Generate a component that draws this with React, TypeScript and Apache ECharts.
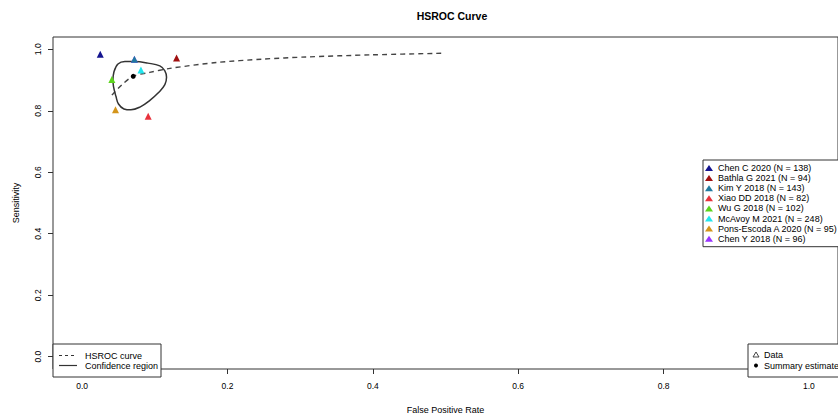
import React, { useEffect, useRef } from "react";
import * as echarts from "echarts";

const studyNames = [
  "Chen C 2020 (N = 138)",
  "Bathla G 2021 (N = 94)",
  "Kim Y 2018 (N = 143)",
  "Xiao DD 2018 (N = 82)",
  "Wu G 2018 (N = 102)",
  "McAvoy M 2021 (N = 248)",
  "Pons-Escoda A 2020 (N = 95)",
  "Chen Y 2018 (N = 96)",
];
const studyFpr = [0.025, 0.13, 0.072, 0.091, 0.041, 0.081, 0.046, 0.072];
const studySens = [0.984, 0.972, 0.968, 0.782, 0.902, 0.933, 0.803, 0.968];
const studyColors = ["#14148f", "#a01010", "#1f7aa0", "#e8323c", "#5cd41c", "#22e6ee", "#d4951a", "#9933ff"];

const summaryPoint = [0.0704, 0.912];

const hsrocFpr = [0.041, 0.055, 0.07, 0.093, 0.121, 0.185, 0.248, 0.308, 0.399, 0.495];
const hsrocSens = [0.851, 0.885, 0.912, 0.925, 0.938, 0.957, 0.968, 0.975, 0.982, 0.987];

const regionFpr = [0.0439, 0.0494, 0.059, 0.0727, 0.0905, 0.107, 0.1139, 0.1162, 0.1139, 0.1056, 0.0933, 0.0796, 0.0672, 0.0576, 0.0501, 0.0466, 0.0432, 0.0425, 0.0439];
const regionSens = [0.927, 0.952, 0.96, 0.96, 0.955, 0.946, 0.93, 0.909, 0.885, 0.86, 0.834, 0.812, 0.803, 0.806, 0.822, 0.847, 0.879, 0.904, 0.927];

const tickValues = [0, 0.2, 0.4, 0.6, 0.8, 1.0];

const FONT = "Liberation Sans, Arial, Helvetica, sans-serif";
const INK = "#333";

export default function App() {
  const ref = useRef<HTMLDivElement>(null);
  useEffect(() => {
    document.body.style.margin = "0";
    if (!ref.current) return;
    const chart = echarts.init(ref.current, undefined, { renderer: "svg" });

    const studySeries = studyNames.map((name, i) => ({
      name,
      type: "scatter",
      symbol: "triangle",
      symbolSize: 7,
      z: i === 7 ? 3 : 4,
      itemStyle: { color: studyColors[i], opacity: 1 },
      data: [[studyFpr[i], studySens[i]]],
    }));

    const option: any = {
      animation: false,
      backgroundColor: "#fff",
      textStyle: { fontFamily: FONT },
      title: {
        text: "HSROC Curve",
        left: 447,
        top: 5,
        textAlign: "center",
        textStyle: { fontSize: 10.5, fontWeight: "bold", color: "#000", fontFamily: FONT },
      },
      grid: {
        left: 53,
        top: 37,
        width: 787,
        height: 340,
        show: true,
        borderColor: INK,
        borderWidth: 1,
        backgroundColor: "transparent",
      },
      xAxis: {
        type: "value",
        min: -0.04,
        max: 1.04,
        name: "False Positive Rate",
        nameLocation: "middle",
        nameGap: 36,
        nameTextStyle: { fontSize: 9, color: "#000", fontFamily: FONT },
        axisLine: { show: false, onZero: false },
        splitLine: { show: false },
        axisTick: { show: true, inside: false, length: 5, customValues: tickValues, lineStyle: { color: INK } },
        axisLabel: {
          customValues: tickValues,
          formatter: (v: number) => v.toFixed(1),
          fontSize: 8.5,
          color: "#000",
          margin: 12,
          fontFamily: FONT,
        },
      },
      yAxis: {
        type: "value",
        min: -0.04,
        max: 1.04,
        name: "Sensitivity",
        nameLocation: "middle",
        nameGap: 33,
        nameRotate: 90,
        nameTextStyle: { fontSize: 9, color: "#000", fontFamily: FONT },
        axisLine: { show: false, onZero: false },
        splitLine: { show: false },
        axisTick: { show: true, inside: false, length: 5, customValues: tickValues, lineStyle: { color: INK } },
        axisLabel: {
          customValues: tickValues,
          formatter: (v: number) => v.toFixed(1),
          rotate: 90,
          fontSize: 8.5,
          color: "#000",
          margin: 11,
          fontFamily: FONT,
        },
      },
      legend: {
        data: studyNames,
        orient: "vertical",
        left: 703,
        top: 160,
        itemWidth: 8,
        itemHeight: 6,
        itemGap: 0.1,
        padding: [3, 20, 3, 2],
        borderColor: INK,
        borderWidth: 1,
        backgroundColor: "#fff",
        selectedMode: false,
        textStyle: { fontSize: 9, lineHeight: 10, color: "#000", fontFamily: FONT },
      },
      series: [
        {
          name: "HSROC curve",
          type: "line",
          data: hsrocFpr.map((x, i) => [x, hsrocSens[i]]),
          showSymbol: false,
          smooth: 0.3,
          z: 2,
          lineStyle: { color: "#444", width: 1.4, type: [5, 4] },
        },
        {
          name: "Confidence region",
          type: "line",
          data: regionFpr.map((x, i) => [x, regionSens[i]]),
          showSymbol: false,
          smooth: 0.4,
          z: 2,
          lineStyle: { color: "#333", width: 1.5 },
        },
        ...studySeries,
        {
          name: "Summary estimate",
          type: "scatter",
          symbol: "circle",
          symbolSize: 5,
          z: 5,
          itemStyle: { color: "#000", opacity: 1 },
          data: [summaryPoint],
        },
      ],
      graphic: [
        {
          type: "rect",
          shape: { x: 53, y: 344, width: 108, height: 33 },
          style: { fill: "#fff", stroke: INK, lineWidth: 1 },
          z: 10,
        },
        {
          type: "line",
          shape: { x1: 59, y1: 355.5, x2: 77, y2: 355.5 },
          style: { stroke: INK, lineWidth: 1.2, lineDash: [3, 3] },
          z: 11,
        },
        {
          type: "line",
          shape: { x1: 59, y1: 365.5, x2: 77, y2: 365.5 },
          style: { stroke: INK, lineWidth: 1.2 },
          z: 11,
        },
        {
          type: "text",
          x: 85,
          y: 355.5,
          style: { text: "HSROC curve", fontSize: 9, fill: "#000", fontFamily: FONT, verticalAlign: "middle" },
          z: 11,
        },
        {
          type: "text",
          x: 85,
          y: 365.5,
          style: { text: "Confidence region", fontSize: 9, fill: "#000", fontFamily: FONT, verticalAlign: "middle" },
          z: 11,
        },
        {
          type: "rect",
          shape: { x: 748, y: 344, width: 100, height: 33 },
          style: { fill: "#fff", stroke: INK, lineWidth: 1 },
          z: 10,
        },
        {
          type: "polygon",
          shape: { points: [[753, 357], [759, 357], [756, 352]] },
          style: { fill: "none", stroke: INK, lineWidth: 0.9 },
          z: 11,
        },
        {
          type: "circle",
          shape: { cx: 756, cy: 365.5, r: 2 },
          style: { fill: "#000" },
          z: 11,
        },
        {
          type: "text",
          x: 764,
          y: 355,
          style: { text: "Data", fontSize: 9, fill: "#000", fontFamily: FONT, verticalAlign: "middle" },
          z: 11,
        },
        {
          type: "text",
          x: 764,
          y: 366,
          style: { text: "Summary estimate", fontSize: 9, fill: "#000", fontFamily: FONT, verticalAlign: "middle" },
          z: 11,
        },
      ],
    };
    chart.setOption(option);
    return () => chart.dispose();
  }, []);
  return <div ref={ref} style={{ width: 838, height: 419 }} />;
}
